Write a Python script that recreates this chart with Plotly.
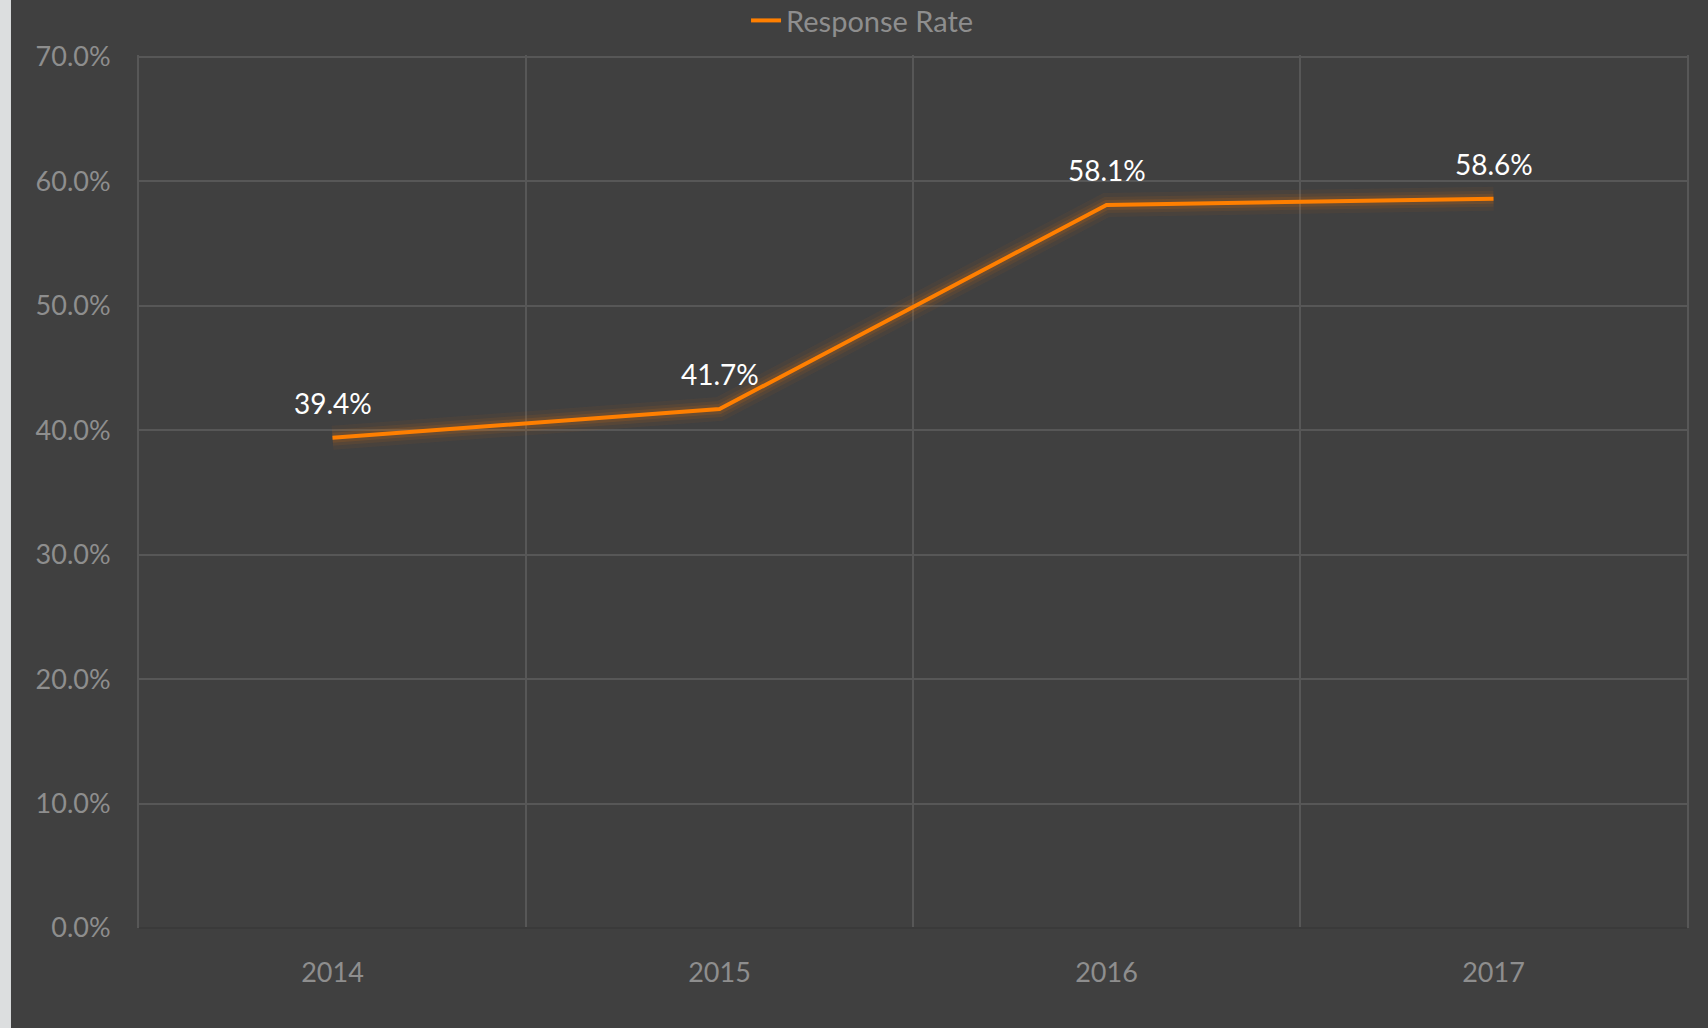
import plotly.graph_objects as go

years = ["2014", "2015", "2016", "2017"]
response_rate = [0.394, 0.417, 0.581, 0.586]
labels = ["39.4%", "41.7%", "58.1%", "58.6%"]
series_name = "Response Rate"

BG = "#404040"
GRID = "#575757"
TICK = "#8e8e8e"
ORANGE = "#ff7f00"
FONT = "Lato, 'Open Sans', sans-serif"

fig = go.Figure()

# glow layers beneath the main line
for w, a in [(24, 0.05), (16, 0.08), (10, 0.12)]:
    fig.add_trace(go.Scatter(
        x=years, y=response_rate, mode="lines",
        line=dict(color=f"rgba(255,127,0,{a})", width=w),
        hoverinfo="skip", showlegend=False))

fig.add_trace(go.Scatter(
    x=years, y=response_rate, mode="lines", name=series_name,
    line=dict(color=ORANGE, width=4)))

for i, (v, t) in enumerate(zip(response_rate, labels)):
    fig.add_annotation(x=i, y=v, text=t, showarrow=False, yshift=35,
                       font=dict(family=FONT, size=28, color="#ffffff"))

fig.update_layout(
    width=1708, height=1028,
    paper_bgcolor=BG, plot_bgcolor=BG,
    margin=dict(l=139, r=21, t=55, b=100, autoexpand=False),
    font=dict(family=FONT, color=TICK, size=26),
    showlegend=True,
    legend=dict(orientation="h", xref="container", x=0.505, xanchor="center",
                yref="container", y=0.98, yanchor="middle",
                font=dict(family=FONT, size=29, color=TICK), bgcolor="rgba(0,0,0,0)"),
    shapes=[dict(type="rect", xref="paper", yref="paper", x0=-0.0898, x1=-0.0827,
                 y0=-0.2, y1=1.1, fillcolor="#dcdedf", line=dict(width=0), layer="below")],
)

fig.update_xaxes(type="category", range=[-0.5, 3.5], tickson="boundaries", showgrid=True,
                 gridcolor=GRID, gridwidth=2, ticks="", showline=False, zeroline=False,
                 tickfont=dict(family=FONT, size=27, color=TICK), ticklabelstandoff=26)
fig.update_yaxes(range=[0, 0.7015], dtick=0.1, tickformat=".1%", showgrid=True,
                 gridcolor=GRID, gridwidth=2, zeroline=True, zerolinecolor="#3a3a3a",
                 zerolinewidth=2, showline=True, mirror=True,
                 linecolor=GRID, linewidth=2, ticks="",
                 tickfont=dict(family=FONT, size=27, color=TICK), ticklabelstandoff=21)

fig.write_html("out.html", config={"displayModeBar": False},
               post_script="document.body.style.margin='0';document.body.style.overflow='hidden';")
